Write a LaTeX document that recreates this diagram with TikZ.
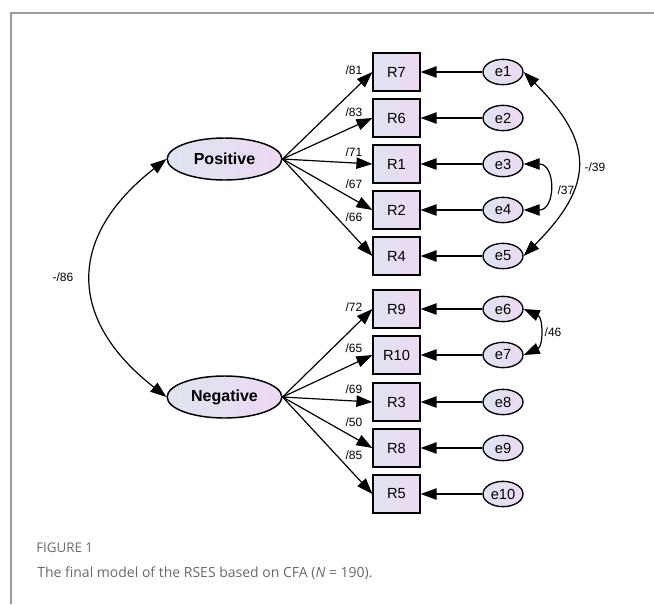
\documentclass[tikz,border=0pt]{standalone}
\usepackage{fontspec}
\setmainfont{Liberation Sans}
\newfontfamily\capfont{Open Sans}
\usepackage{xcolor}
\usetikzlibrary{arrows.meta, shapes.geometric}

\definecolor{shadeL}{RGB}{222,228,240}
\definecolor{shadeR}{RGB}{237,217,243}
\definecolor{framegray}{RGB}{155,155,155}
\definecolor{capgray}{RGB}{105,105,105}

\begin{document}
\begin{tikzpicture}[x=0.75pt, y=-0.75pt,
    latent/.style={ellipse, draw, line width=1.1pt, left color=shadeL, right color=shadeR,
        minimum width=86pt, minimum height=31.5pt, inner sep=0pt,
        font=\bfseries\fontsize{12}{14}\selectfont},
    item/.style={rectangle, draw, line width=1.1pt, left color=shadeL, right color=shadeR,
        minimum width=35pt, minimum height=28.5pt, inner sep=0pt,
        font=\fontsize{11}{13}\selectfont},
    err/.style={ellipse, draw, line width=1pt, left color=shadeL, right color=shadeR,
        minimum width=30pt, minimum height=19pt, inner sep=0pt,
        font=\fontsize{11}{13}\selectfont},
    arr/.style={-{Triangle[length=12pt, width=8.5pt]}, line width=0.9pt},
    cov/.style={{Triangle[length=12pt, width=8.5pt]}-{Triangle[length=12pt, width=8.5pt]}, line width=0.9pt},
    coef/.style={font=\fontsize{9}{11}\selectfont, inner sep=0pt}]
    \useasboundingbox (0,0) rectangle (654,604);

    % Frame
    \draw[framegray, line width=1.1pt] (11,604) -- (11,13) -- (654,13);

    % Factors
    \node[latent] (pos) at (224.5,159) {Positive};
    \node[latent] (neg) at (224.5,397) {Negative};

    % Items and error terms
    \foreach \name/\lab/\err/\y in {r7/R7/e1/72, r6/R6/e2/118, r1/R1/e3/164, r2/R2/e4/210, r4/R4/e5/256,
        r9/R9/e6/309, r10/R10/e7/355, r3/R3/e8/402, r8/R8/e9/448, r5/R5/e10/494} {
        \node[item] (\name) at (396.5,\y) {\lab};
        \node[err] (\err) at (503,\y) {\err};
        \draw[arr] (\err.west) -- (\name.east);
    }

    % Loadings
    \foreach \name/\val/\ly in {r7/81/70, r6/83/112, r1/71/152, r2/67/184, r4/66/217} {
        \draw[arr] (pos.east) -- (\name.west);
        \node[coef] (l\name) at (354,\ly) {/\val};
    }
    \foreach \name/\val/\ly in {r9/72/307, r10/65/348, r3/69/389, r8/50/422, r5/85/455} {
        \draw[arr] (neg.east) -- (\name.west);
        \node[coef] (l\name) at (354,\ly) {/\val};
    }

    % Covariances
    \draw[cov] (pos.west) to[bend right=52, looseness=1.36] (neg.west);
    \node[coef] (cpn) at (63,277) {-/86};
    \draw[cov] (e1.east) to[bend left=45, looseness=1.4] (e5.east);
    \node[coef] (c15) at (595,167) {-/39};
    \draw[cov] (e3.east) to[bend left=90, looseness=1.8] (e4.east);
    \node[coef] (c34) at (566,190) {/37};
    \draw[cov] (e6.east) to[bend left=66, looseness=1.2] (e7.east);
    \node[coef] (c67) at (553,332) {/46};

    % Caption
    \node[anchor=base west, inner sep=0pt, capgray, font=\capfont\fontsize{10}{12}\selectfont] (fig) at (36,552) {FIGURE 1};
    \node[anchor=base west, inner sep=0pt, capgray, font=\capfont\fontsize{10.5}{13}\selectfont] (cap) at (37,577)
        {The final model of the RSES based on CFA (\textit{N} = 190).};
\end{tikzpicture}
\end{document}
